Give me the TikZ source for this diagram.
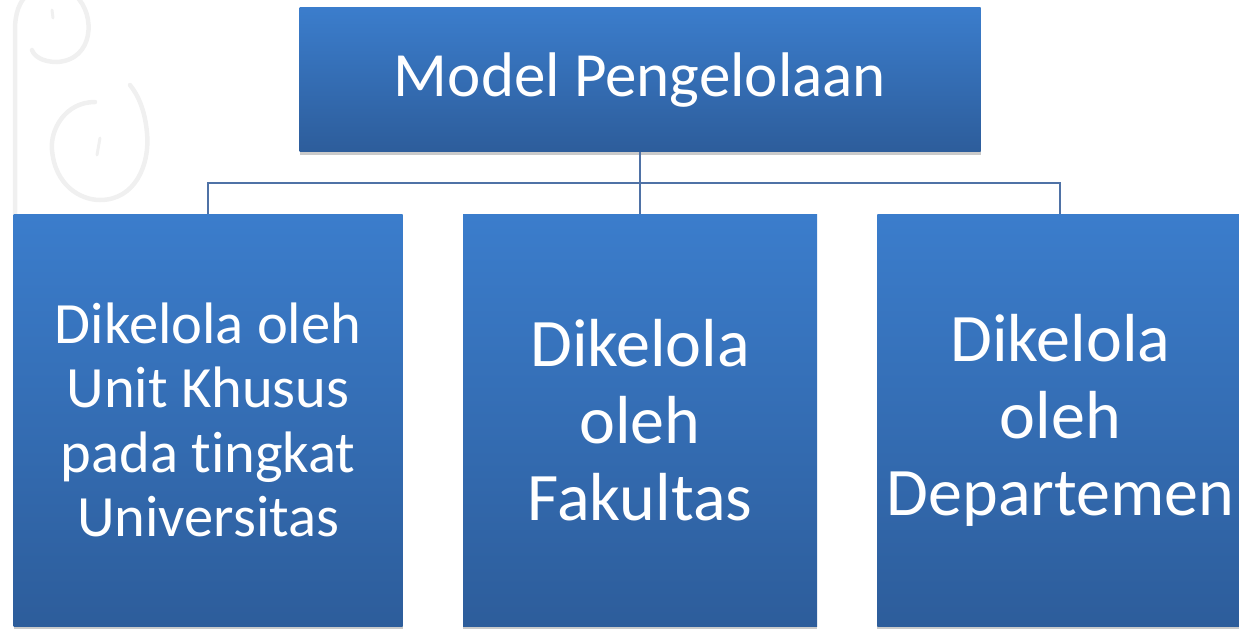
\documentclass[tikz,border=0pt]{standalone}
\usepackage{fontspec}
\setmainfont{Carlito}[RawFeature={-liga}]
\usetikzlibrary{positioning, shadows}

\definecolor{boxtop}{RGB}{59,125,204}
\definecolor{boxbot}{RGB}{45,93,155}
\definecolor{connblue}{RGB}{79,114,166}

\begin{document}
\begin{tikzpicture}[x=1pt, y=-1pt,
  box/.style={rectangle, top color=boxtop, bottom color=boxbot, text=white, align=center,
    inner sep=0pt, drop shadow={shadow xshift=0pt, shadow yshift=-3pt, opacity=0.35, fill=black!60}},
  big/.style={box, font=\fontsize{63}{70}\selectfont},
  mid/.style={box, minimum height=412pt, font=\fontsize{68}{77}\selectfont},
  small/.style={box, minimum height=412pt, font=\fontsize{58.5}{64.5}\selectfont},
  conn/.style={draw=connblue, line width=2pt},
  swirl/.style={draw=black!6, line width=4.5pt, line cap=round},
  node distance=60pt]
  \useasboundingbox (0,0) rectangle (1239,634);
  % background ornament
  \draw[swirl] (15,214) -- (15,30) .. controls (15,12) and (20,2) .. (26,-4);
  \draw[swirl] (76,-4) .. controls (96,15) and (94,60) .. (57,62) .. controls (42,62) and (34,56) .. (32,50);
  \draw[swirl, line width=3pt] (52,10) -- (53,18);
  \draw[swirl] (95,102) .. controls (65,102) and (50,130) .. (52,150) .. controls (55,185) and (80,200) .. (100,200) .. controls (135,200) and (150,165) .. (147,133) .. controls (145,110) and (138,95) .. (130,85);
  \draw[swirl, line width=3pt] (100,138) -- (97,155);
  % boxes
  \node[mid, minimum width=354pt] (fak) at (640,420) {Dikelola\\oleh\\Fakultas};
  \node[small, minimum width=389pt, left=of fak] (univ) {Dikelola oleh\\Unit Khusus\\pada tingkat\\Universitas};
  \node[mid, minimum width=366pt, right=of fak] (dept) {Dikelola\\oleh\\Departemen};
  \node[big, minimum width=681pt, minimum height=144pt, above=62pt of fak] (model) {Model Pengelolaan};
  % connectors
  \draw[conn] (model.south) -- ++(0,31) -| (univ.north);
  \draw[conn] (model.south) -- (fak.north);
  \draw[conn] (model.south) -- ++(0,31) -| (dept.north);
\end{tikzpicture}
\end{document}
